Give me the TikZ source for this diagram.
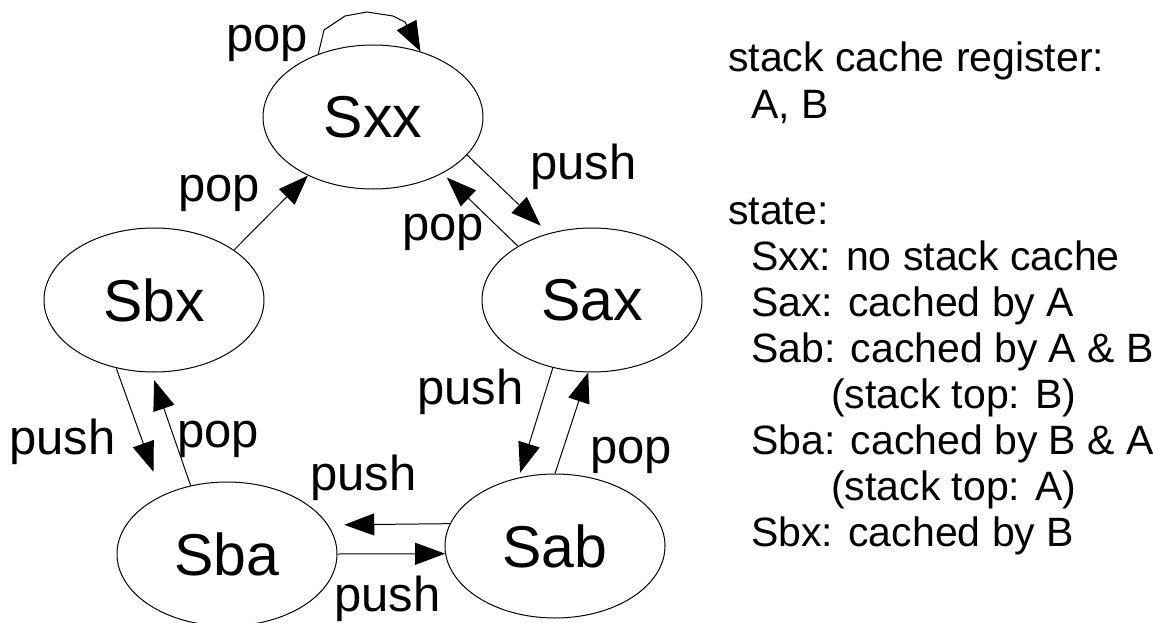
\documentclass[tikz,border=0pt]{standalone}
\usepackage{fontspec}
\setmainfont{Liberation Sans}
\usetikzlibrary{shapes.geometric,arrows.meta}
\tikzset{
  state/.style={draw, ellipse, line width=1pt, minimum width=220pt,
    minimum height=144pt, inner sep=0pt, font=\fontsize{59}{70}\selectfont},
  trans/.style={draw, line width=1pt, -{Triangle[length=30pt,width=22pt]}},
  lbl/.style={anchor=base west, inner sep=0pt, font=\fontsize{49}{58}\selectfont},
  info/.style={anchor=base west, inner sep=0pt, font=\fontsize{41}{48}\selectfont},
}
\begin{document}
\begin{tikzpicture}[x=1pt,y=-1pt]
\useasboundingbox (0,0) rectangle (1153,623);

% states
\node[state] (Sxx) at (373,117) {Sxx};
\node[state] (Sbx) at (154,300) {Sbx};
\node[state] (Sax) at (592,300) {Sax};
\node[state] (Sba) at (227,554) {Sba};
\node[state] (Sab) at (555,546) {Sab};

% self loop on Sxx
\draw[trans] (Sxx.131.2) -- (324,30) -- (345,16) -- (367,12) -- (393,16)
  -- (405,22) -- (Sxx.54.1);
\node[lbl] (lpop0) at (226,52) {pop};

% transitions
\draw[trans] (Sbx.32.8) -- (Sxx.222.3);
\node[lbl] (lpop1) at (178,201) {pop};

\draw[trans, shorten >=11pt] (Sxx.338.2) -- (Sax.123.6);
\node[lbl] (lpush1) at (530,179) {push};

\draw[trans, shorten >=6pt] (Sax.144.4) -- (Sxx.321.3);
\node[lbl] (lpop2) at (402,240) {pop};

\draw[trans, shorten >=25pt] (Sbx.241) -- (Sba.138.3);
\node[lbl] (lpush2) at (9,454) {push};

\draw[trans, shorten >=8pt] (Sba.118.5) -- (Sbx.268.7);
\node[lbl] (lpop3) at (177,447) {pop};

\draw[trans, shorten >=5pt] (Sax.240.4) -- (Sab.118.5);
\node[lbl] (lpush3) at (417,404) {push};

\draw[trans] (Sab.90) -- (Sax.267.1);
\node[lbl] (lpop4) at (590,463) {pop};

\draw[trans, shorten >=16pt] (Sab.168.5) -- (Sba.16.7);
\node[lbl] (lpush4) at (310,490) {push};

\draw[trans] (Sba.0) -- (Sab.184.2);
\node[lbl] (lpush5) at (334,611) {push};

% legend
\node[info] (t1) at (728,71.5) {stack cache register:};
\node[info] (t2) at (751,118) {A, B};
\node[info] (t3) at (728,224) {state:};
\node[info] (t4) at (751,270) {Sxx: no stack cache};
\node[info] (t5) at (751,316) {Sax: cached by A};
\node[info] (t6) at (751,362) {Sab: cached by A \& B};
\node[info] (t7) at (831,408) {(stack top: B)};
\node[info] (t8) at (751,454) {Sba: cached by B \& A};
\node[info] (t9) at (831,500) {(stack top: A)};
\node[info] (t10) at (751,546) {Sbx: cached by B};
\end{tikzpicture}
\end{document}
